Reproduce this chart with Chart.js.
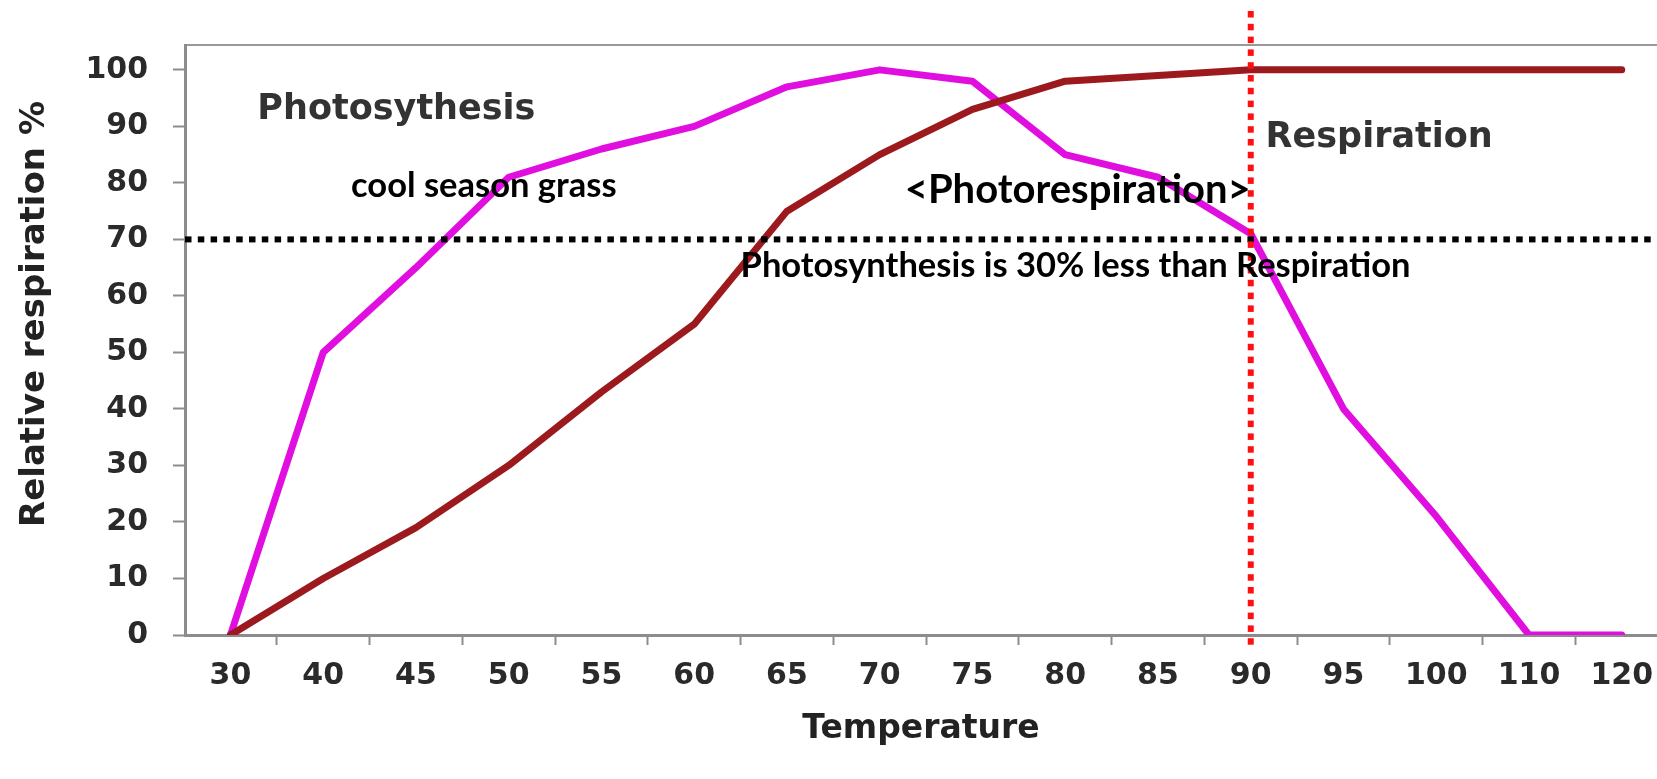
<!DOCTYPE html>
<html>
<head>
<meta charset="utf-8">
<script src="https://cdn.jsdelivr.net/npm/chart.js"></script>
<style>
  html, body { margin: 0; padding: 0; background: #fff; }
  #wrap { width: 1657px; height: 779px; position: relative; }
</style>
</head>
<body>
<div id="wrap"><canvas id="chart"></canvas></div>
<script>
// temperature categories (x axis) and the two curves
const temps = ['30', '40', '45', '50', '55', '60', '65', '70', '75', '80', '85', '90', '95', '100', '110', '120'];
const photosynthesis = [0, 50, 65, 81, 86, 90, 97, 100, 98, 85, 81, 71, 40, 21, 0, 0];
const respiration = [0, 10, 19, 30, 43, 55, 75, 85, 93, 98, 99, 100, 100, 100, 100, 100];
const yTicks = [0, 10, 20, 30, 40, 50, 60, 70, 80, 90, 100];
const limitLevel = 70;      // dotted black line
const limitTemp = 11;       // index of 90 in temps, dotted red line

const gray = '#8c8c8c';
const tickFont = { family: '"DejaVu Sans", sans-serif', size: 30, weight: 'bold' };

// dotted guide lines + the text notes
const notesPlugin = {
    id: 'notes',
    afterDatasetsDraw(chart) {
        const { ctx, chartArea, scales: { x, y } } = chart;
        ctx.save();

        // black dotted line at 70 %
        const yy = y.getPixelForValue(limitLevel);
        ctx.fillStyle = '#000';
        for (let px = chartArea.left; px < chart.width; px += 12.8) {
            ctx.fillRect(px, yy - 3, 6.5, 6);
        }

        // red dotted line at 90 degrees
        const xx = x.getPixelForValue(limitTemp);
        ctx.fillStyle = '#ff1010';
        for (let py = 11; py < chartArea.bottom + 6; py += 12.8) {
            ctx.fillRect(xx - 3, py, 6, 6.5);
        }

        const put = (text, vx, vy, font, color, align) => {
            ctx.font = font;
            ctx.fillStyle = color;
            ctx.textAlign = align;
            ctx.textBaseline = 'middle';
            ctx.fillText(text, x.getPixelForValue(vx), y.getPixelForValue(vy));
        };
        put('Photosythesis', 0.29, 93, 'bold 35px "DejaVu Sans"', '#333', 'left');
        put('Respiration', 11.16, 88, 'bold 35px "DejaVu Sans"', '#333', 'left');
        put('cool season grass', 1.3, 79.5, 'bold 34.5px Lato', '#000', 'left');
        put('<Photorespiration>', 11, 78.8, 'bold 40px Lato', '#000', 'right');
        put('Photosynthesis is 30% less than Respiration', 5.5, 65.3, 'bold 34.5px Lato', '#000', 'left');

        // y axis title, sitting a little above the middle like the original
        ctx.translate(35, 314);
        ctx.rotate(-Math.PI / 2);
        ctx.font = 'bold 34px "DejaVu Sans"';
        ctx.fillStyle = '#222';
        ctx.textAlign = 'center';
        ctx.fillText('Relative respiration %', 0, 0);
        ctx.restore();
    }
};

const idx = temps.map((t, i) => i);

// fixed box sizes, and no extra room kept for overhanging tick labels
const fixBox = (w, h) => s => {
    if (w) s.width = w;
    if (h) s.height = h;
    s.paddingLeft = 0; s.paddingRight = 0; s.paddingTop = 0; s.paddingBottom = 0;
};

new Chart(document.getElementById('chart').getContext('2d'), {
    type: 'line',
    data: {
        datasets: [
            {
                label: 'Respiration',
                data: respiration.map((v, i) => ({ x: i, y: v })),
                borderColor: '#9c1a1e',
                borderWidth: 7
            },
            {
                label: 'Photosynthesis',
                data: photosynthesis.map((v, i) => ({ x: i, y: v })),
                borderColor: '#e00fe0',
                borderWidth: 7
            }
        ]
    },
    options: {
        responsive: true,
        maintainAspectRatio: false,
        animation: false,
        layout: { padding: 0 },
        elements: {
            line: { tension: 0, borderJoinStyle: 'round', borderCapStyle: 'round' },
            point: { radius: 0, hoverRadius: 0 }
        },
        scales: {
            x: {
                type: 'linear',
                position: 'bottom',
                min: -0.49,
                max: 15.38,
                afterBuildTicks: s => { s.ticks = idx.map(v => ({ value: v })); },
                afterFit: fixBox(0, 144),
                ticks: {
                    autoSkip: false,
                    maxRotation: 0,
                    padding: 13,
                    color: '#2a2a2a',
                    font: tickFont,
                    callback: v => temps[v]
                },
                grid: { offset: true, drawOnChartArea: false, tickLength: 10, tickColor: gray, tickWidth: 2 },
                border: { color: gray, width: 3 },
                title: {
                    display: true, text: 'Temperature', color: '#222',
                    font: { family: '"DejaVu Sans", sans-serif', size: 33, weight: 'bold' },
                    padding: { top: 0, bottom: 30 }
                }
            },
            x2: {
                type: 'linear',
                position: 'top',
                min: -0.49,
                max: 15.38,
                afterFit: fixBox(0, 45),
                ticks: { display: false },
                grid: { drawOnChartArea: false, drawTicks: false },
                border: { color: '#999', width: 2 }
            },
            y: {
                min: 0,
                max: 104.4,
                afterBuildTicks: s => { s.ticks = yTicks.map(v => ({ value: v })); },
                afterFit: fixBox(185, 0),
                ticks: { padding: 25, color: '#2a2a2a', font: tickFont },
                grid: { drawOnChartArea: false, tickLength: 12, tickColor: gray, tickWidth: 2 },
                border: { color: gray, width: 3 }
            }
        },
        plugins: {
            legend: { display: false },
            tooltip: { enabled: false }
        }
    },
    plugins: [notesPlugin]
});
</script>
</body>
</html>
